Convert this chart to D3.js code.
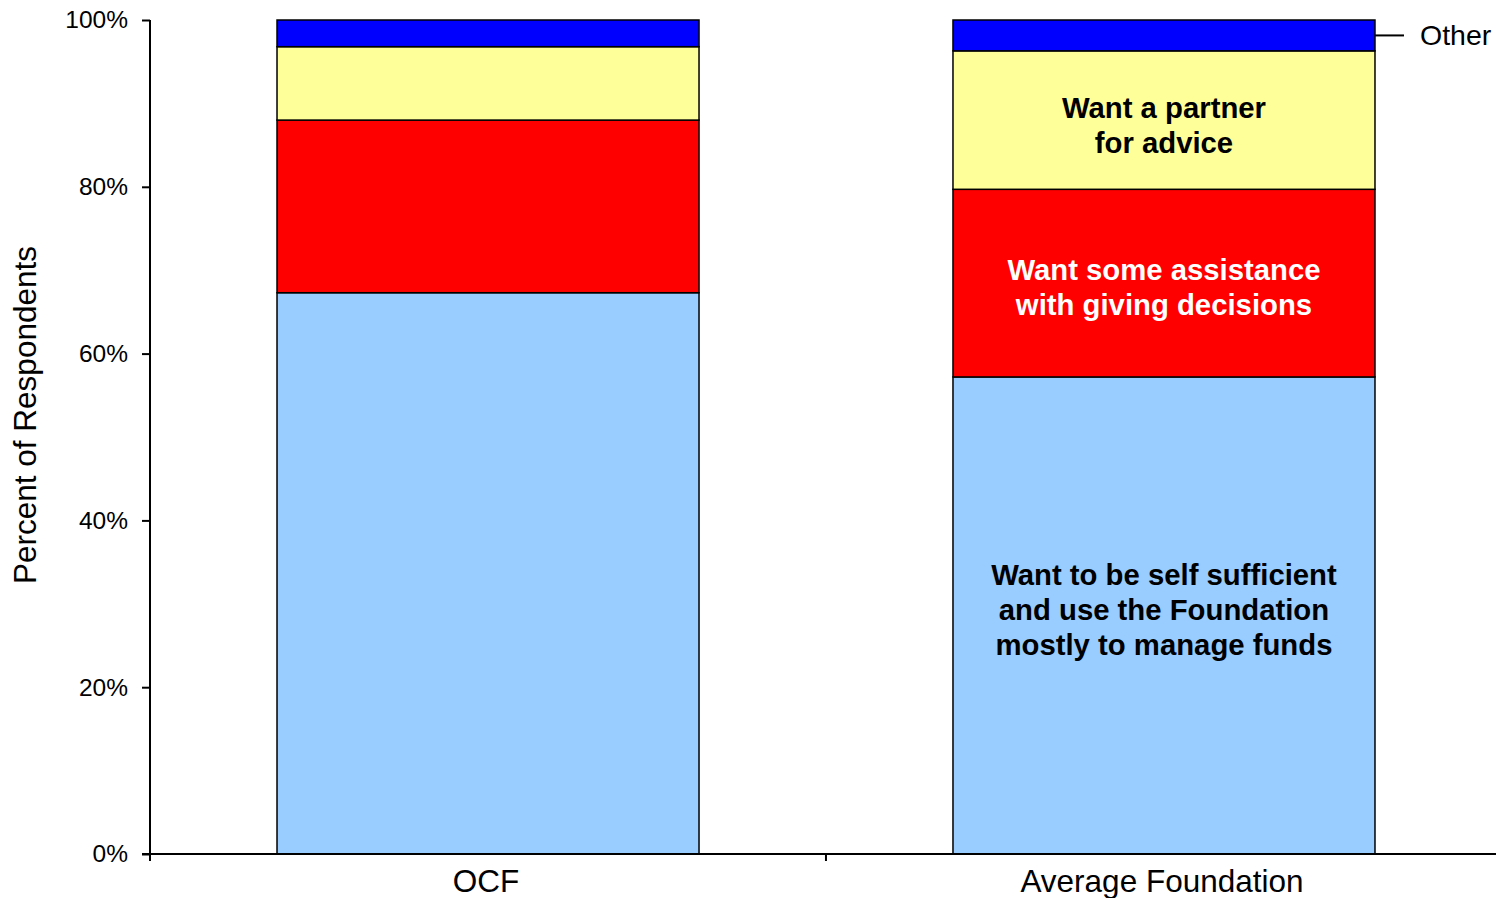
<!DOCTYPE html>
<html><head><meta charset="utf-8">
<script src="https://cdn.jsdelivr.net/npm/d3@7"></script>
<style>body{margin:0;background:#fff}svg{display:block;font-family:"Liberation Sans",Arial,sans-serif}</style>
</head><body><svg id="c" width="1496" height="898"></svg>
<script>
const categories = ["OCF", "Average Foundation"];
const seriesNames = ["Want to be self sufficient and use the Foundation mostly to manage funds", "Want some assistance with giving decisions", "Want a partner for advice", "Other"];
const selfSufficient = [67.3, 57.2];
const someAssistance = [20.7, 22.5];
const partner = [8.8, 16.6];
const other = [3.2, 3.7];
const yTicks = [0, 20, 40, 60, 80, 100];
const colors = ["#99ccff", "#ff0000", "#ffff99", "#0000ff"];
const labelLines = [["Want to be self sufficient", "and use the Foundation", "mostly to manage funds"], ["Want some assistance", "with giving decisions"], ["Want a partner", "for advice"], []];
const labelColors = ["#000", "#fff", "#000", "#000"];

(function () {
const svg = d3.select("#c");
const mLeft = 150, mTop = 20, mBottom = 854, mRight = 1502;
const y = d3.scaleLinear().domain([0, 100]).range([mBottom, mTop]);
const x = d3.scaleBand().domain(categories).range([mLeft, mRight]).paddingInner(0.3757).paddingOuter(0.1879);

const seriesArrays = [selfSufficient, someAssistance, partner, other];
const rows = categories.map((c, i) => { const r = {cat: c}; seriesArrays.forEach((s, k) => r["s" + k] = s[i]); return r; });
const stack = d3.stack().keys(seriesArrays.map((_, k) => "s" + k))(rows);

stack.forEach((layer, k) => {
  svg.append("g").selectAll("rect").data(layer).join("rect")
    .attr("x", d => x(d.data.cat)).attr("width", x.bandwidth())
    .attr("y", d => y(d[1])).attr("height", d => y(d[0]) - y(d[1]))
    .attr("fill", colors[k]).attr("stroke", "#000").attr("stroke-width", 1.5);
});

// labels on Average Foundation bar
const cat = categories[1];
const shifts = [-6, 4, 5, 0];
stack.forEach((layer, k) => {
  const lines = labelLines[k];
  if (!lines.length) return;
  const d = layer[1];
  const cy = (y(d[0]) + y(d[1])) / 2 + shifts[k];
  const lh = 35;
  lines.forEach((t, j) => {
    svg.append("text").attr("x", x(cat) + x.bandwidth() / 2)
      .attr("y", cy + (j - (lines.length - 1) / 2) * lh)
      .attr("dy", "0.35em").attr("text-anchor", "middle")
      .attr("font-weight", "bold").attr("font-size", 29.3).attr("fill", labelColors[k]).text(t);
  });
});

// Other callout
const oth = stack[3][1];
const oy = y((oth[0] + oth[1]) / 2);
const bx = x(cat) + x.bandwidth();
svg.append("line").attr("x1", bx).attr("x2", bx + 29).attr("y1", oy).attr("y2", oy).attr("stroke", "#000").attr("stroke-width", 2);
svg.append("text").attr("x", bx + 45).attr("y", oy).attr("dy", "0.35em").attr("font-size", 28.5).text(seriesNames[3]);

// y axis
const yAxis = svg.append("g").attr("transform", `translate(${mLeft},0)`)
  .call(d3.axisLeft(y).tickValues(yTicks).tickFormat(d => d + "%").tickSize(8).tickPadding(14));
yAxis.select(".domain").attr("stroke", "#000").attr("stroke-width", 2).attr("d", `M0,${mTop}V${mBottom}`);
yAxis.selectAll(".tick line").attr("stroke-width", 2);
yAxis.selectAll("text").attr("font-size", 24.5).attr("font-family", "Liberation Sans, Arial, sans-serif").attr("fill", "#000");

// x axis
svg.append("line").attr("x1", mLeft - 8).attr("x2", 1496).attr("y1", mBottom).attr("y2", mBottom).attr("stroke", "#000").attr("stroke-width", 2);
const bounds = [mLeft, mLeft + x.step()];
bounds.forEach(b => svg.append("line").attr("x1", b).attr("x2", b).attr("y1", mBottom).attr("y2", mBottom + 7).attr("stroke", "#000").attr("stroke-width", 2));
categories.forEach(c => svg.append("text").attr("x", x(c) + x.bandwidth() / 2 - 2).attr("y", 892)
  .attr("text-anchor", "middle").attr("font-size", 31.5).text(c));

// y title
svg.append("text").attr("transform", "translate(36,415) rotate(-90)").attr("text-anchor", "middle")
  .attr("font-size", 31.5).text("Percent of Respondents");
})();
</script></body></html>
